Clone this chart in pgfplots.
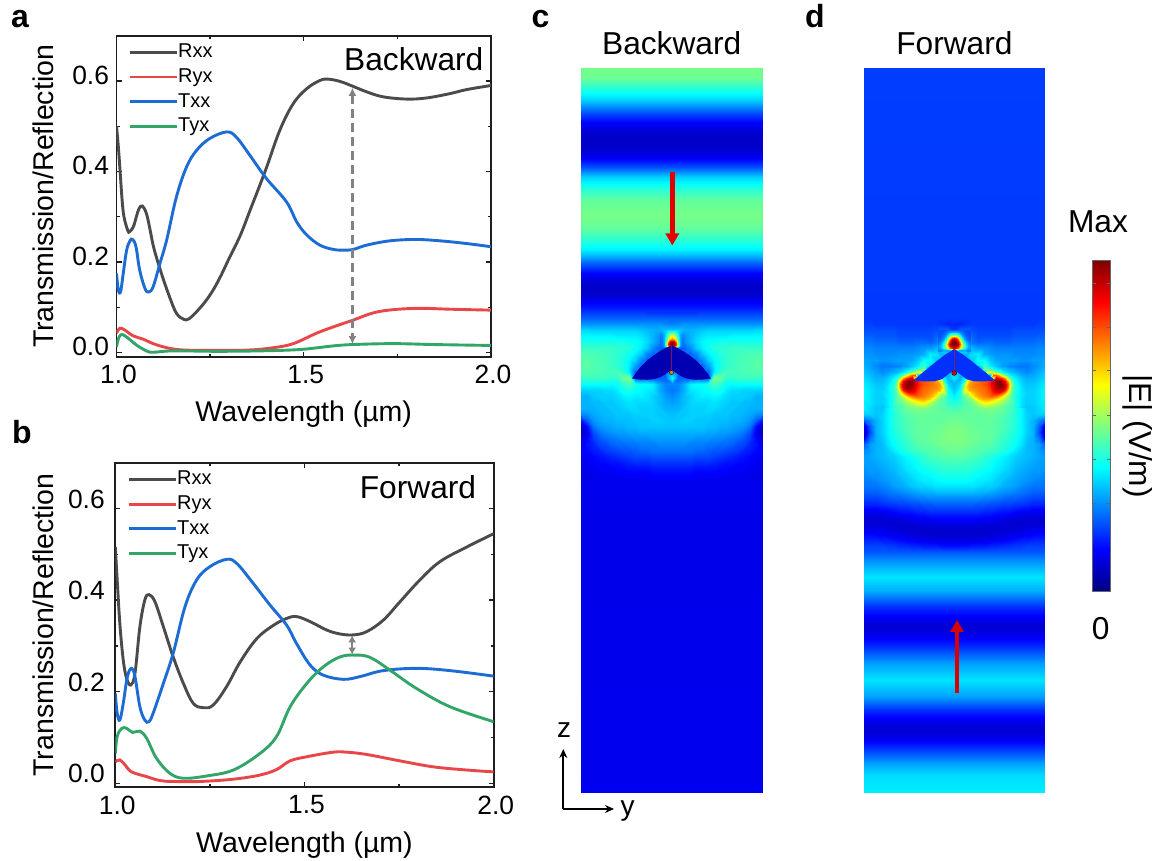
\documentclass[border=0pt]{standalone}
\usepackage{pgfplots}
\usepackage{pgfplotstable}
\pgfplotsset{compat=1.18}
\usepackage{fontspec}
\setmainfont{Liberation Sans}
\usetikzlibrary{arrows.meta}
\definecolor{cRxx}{RGB}{75,75,75}
\definecolor{cRyx}{RGB}{232,70,72}
\definecolor{cTxx}{RGB}{28,108,212}
\definecolor{cTyx}{RGB}{50,165,105}
\definecolor{frameC}{RGB}{30,30,30}
\definecolor{arrowG}{RGB}{130,130,130}
\definecolor{wingC}{RGB}{0,0,178}
\definecolor{wingD}{RGB}{0,48,250}
\definecolor{hotLine}{RGB}{170,20,60}
\newcommand{\fsz}[1]{\fontsize{#1}{#1}\selectfont}

% ---------- curves, panel a
\pgfplotstableread{
l v
1.000 0.500
1.005 0.454
1.010 0.396
1.015 0.337
1.020 0.300
1.030 0.270
1.035 0.267
1.045 0.278
1.053 0.300
1.060 0.318
1.069 0.324
1.080 0.307
1.090 0.270
1.100 0.230
1.120 0.175
1.140 0.127
1.160 0.087
1.180 0.0735
1.190 0.0735
1.200 0.079
1.220 0.096
1.240 0.116
1.260 0.141
1.280 0.172
1.300 0.207
1.330 0.258
1.356 0.313
1.398 0.403
1.436 0.491
1.472 0.550
1.508 0.583
1.543 0.601
1.565 0.604
1.597 0.599
1.632 0.588
1.668 0.576
1.712 0.565
1.775 0.560
1.828 0.5625
1.890 0.572
1.935 0.581
2.000 0.590
}\aRxx
\pgfplotstableread{
l v
1.000 0.175
1.005 0.138
1.011 0.135
1.018 0.175
1.027 0.226
1.036 0.247
1.043 0.250
1.052 0.234
1.062 0.182
1.076 0.142
1.086 0.134
1.098 0.146
1.116 0.197
1.134 0.249
1.160 0.344
1.187 0.410
1.214 0.447
1.249 0.473
1.294 0.4875
1.320 0.476
1.356 0.436
1.400 0.385
1.454 0.333
1.481 0.289
1.508 0.260
1.543 0.2375
1.579 0.228
1.606 0.2265
1.632 0.228
1.668 0.2375
1.730 0.247
1.800 0.250
1.864 0.247
1.935 0.241
2.000 0.234
}\aTxx
\pgfplotstableread{
l v
1.000 0.043
1.009 0.054
1.022 0.050
1.045 0.037
1.071 0.030
1.098 0.020
1.134 0.011
1.178 0.006
1.267 0.005
1.356 0.006
1.419 0.011
1.472 0.020
1.534 0.043
1.579 0.057
1.632 0.072
1.686 0.088
1.739 0.095
1.810 0.098
1.890 0.096
2.000 0.094
}\aRyx
\pgfplotstableread{
l v
1.000 0.013
1.007 0.035
1.016 0.040
1.031 0.032
1.053 0.017
1.080 0.004
1.098 0.001
1.151 0.004
1.267 0.003
1.383 0.004
1.490 0.007
1.579 0.015
1.632 0.018
1.739 0.020
1.846 0.018
2.000 0.016
}\aTyx
% ---------- curves, panel b
\pgfplotstableread{
l v
1.000 0.516
1.005 0.444
1.012 0.349
1.021 0.269
1.030 0.229
1.041 0.2145
1.052 0.240
1.065 0.342
1.078 0.400
1.089 0.412
1.105 0.396
1.127 0.342
1.153 0.276
1.180 0.218
1.206 0.1745
1.233 0.165
1.259 0.171
1.294 0.211
1.330 0.265
1.374 0.316
1.418 0.345
1.453 0.360
1.479 0.364
1.515 0.353
1.559 0.3345
1.594 0.326
1.629 0.324
1.664 0.331
1.708 0.356
1.752 0.396
1.805 0.444
1.858 0.484
1.929 0.516
2.000 0.545
}\bRxx
\pgfplotstableread{
l v
1.000 0.196
1.005 0.153
1.012 0.138
1.021 0.1745
1.032 0.233
1.043 0.251
1.052 0.233
1.065 0.167
1.078 0.138
1.089 0.1345
1.100 0.153
1.127 0.218
1.153 0.284
1.184 0.385
1.215 0.444
1.250 0.473
1.294 0.489
1.321 0.480
1.365 0.436
1.409 0.389
1.453 0.345
1.479 0.305
1.515 0.258
1.550 0.236
1.603 0.227
1.647 0.233
1.708 0.246
1.796 0.251
1.885 0.246
2.000 0.234
}\bTxx
\pgfplotstableread{
l v
1.000 0.047
1.012 0.051
1.026 0.040
1.043 0.025
1.083 0.0145
1.118 0.006
1.153 0.004
1.224 0.004
1.312 0.009
1.382 0.018
1.426 0.030
1.462 0.049
1.506 0.058
1.576 0.068
1.611 0.068
1.664 0.063
1.752 0.049
1.840 0.036
1.929 0.029
2.000 0.025
}\bRyx
\pgfplotstableread{
l v
1.000 0.065
1.005 0.102
1.017 0.120
1.030 0.120
1.046 0.111
1.065 0.114
1.083 0.098
1.109 0.0545
1.144 0.022
1.180 0.011
1.241 0.016
1.312 0.029
1.382 0.065
1.426 0.102
1.462 0.167
1.506 0.218
1.550 0.2545
1.594 0.276
1.633 0.280
1.673 0.275
1.726 0.247
1.796 0.207
1.885 0.167
2.000 0.1345
}\bTyx

% ---------- field maps: values in percent of the colour scale
% panel c, rows y = 312,318,...,480; half-columns at 0,6,...,90 px from the centre
\pgfplotstableread[row sep=\\,header=false]{
17\\17\\17\\17\\17\\18\\18\\18\\18\\18\\18\\18\\18\\18\\18\\18\\
22\\22\\22\\22\\22\\22\\22\\22\\22\\22\\22\\22\\22\\22\\22\\22\\
25\\26\\27\\27\\27\\27\\27\\27\\27\\27\\27\\27\\27\\27\\27\\27\\
32\\32\\30\\30\\31\\32\\33\\33\\33\\33\\33\\33\\33\\33\\34\\34\\
40\\38\\27\\30\\33\\35\\36\\36\\36\\36\\37\\37\\37\\37\\37\\37\\
30\\30\\26\\30\\34\\37\\38\\39\\40\\40\\40\\40\\40\\40\\40\\40\\
22\\22\\22\\26\\32\\36\\39\\41\\42\\42\\43\\43\\43\\43\\43\\43\\
22\\22\\22\\22\\25\\32\\36\\39\\41\\42\\43\\44\\44\\45\\45\\45\\
22\\22\\22\\22\\22\\26\\33\\37\\40\\42\\43\\44\\45\\45\\46\\46\\
22\\22\\22\\22\\22\\22\\28\\36\\40\\42\\43\\44\\45\\45\\46\\46\\
28\\22\\22\\22\\22\\22\\22\\36\\42\\44\\44\\44\\45\\45\\45\\45\\
38\\22\\22\\22\\22\\22\\22\\50\\48\\42\\42\\43\\43\\43\\43\\43\\
26\\26\\30\\36\\38\\38\\40\\44\\42\\38\\37\\38\\38\\38\\38\\38\\
24\\26\\30\\35\\36\\37\\38\\40\\39\\36\\34\\34\\33\\33\\33\\33\\
26\\28\\31\\33\\35\\36\\36\\37\\36\\34\\33\\33\\33\\32\\30\\30\\
28\\29\\31\\33\\34\\34\\34\\35\\34\\33\\32\\32\\31\\31\\30\\30\\
30\\30\\32\\33\\33\\33\\34\\34\\33\\32\\32\\31\\31\\30\\30\\30\\
31\\32\\32\\33\\33\\33\\33\\32\\32\\32\\31\\31\\30\\29\\27\\26\\
32\\32\\33\\33\\32\\32\\32\\31\\31\\31\\30\\30\\29\\27\\22\\16\\
32\\32\\32\\32\\32\\32\\31\\31\\30\\30\\29\\28\\27\\24\\14\\7\\
30\\30\\30\\30\\30\\30\\29\\29\\28\\28\\27\\26\\24\\20\\11\\6\\
28\\28\\28\\28\\27\\27\\27\\26\\26\\25\\24\\23\\21\\18\\13\\9\\
26\\26\\26\\25\\25\\25\\24\\24\\23\\23\\22\\20\\19\\16\\14\\11\\
24\\24\\24\\24\\23\\23\\22\\21\\21\\20\\19\\18\\16\\15\\13\\12\\
21\\21\\21\\21\\20\\20\\20\\19\\18\\17\\16\\15\\14\\13\\12\\11\\
18\\18\\18\\18\\17\\17\\17\\16\\15\\14\\14\\13\\13\\12\\11\\11\\
15\\15\\15\\15\\14\\14\\14\\14\\13\\13\\12\\12\\12\\11\\11\\10\\
13\\13\\13\\13\\12\\12\\12\\12\\12\\12\\11\\11\\11\\11\\10\\10\\
12\\12\\12\\12\\12\\11\\11\\11\\11\\11\\11\\11\\10\\10\\10\\10\\
}\cGrid
% panel c hot spot, rows y = 330,332,...,350; half-columns at 0,2,...,12
\pgfplotstableread[row sep=\\,header=false]{
34\\34\\34\\33\\32\\31\\30\\
42\\41\\38\\34\\31\\29\\28\\
55\\52\\44\\36\\30\\27\\26\\
64\\60\\50\\38\\30\\26\\25\\
68\\64\\54\\40\\30\\25\\24\\
82\\78\\62\\42\\30\\24\\24\\
100\\95\\78\\48\\30\\24\\24\\
100\\98\\85\\55\\30\\24\\23\\
92\\88\\72\\45\\28\\24\\23\\
40\\30\\25\\22\\22\\22\\22\\
22\\22\\22\\22\\22\\22\\22\\
}\cHot
% panel d, rows y = 312,318,...,552; half-columns at 0,6,...,90
\pgfplotstableread[row sep=\\,header=false]{
18\\18\\18\\18\\18\\18\\18\\18\\18\\18\\18\\18\\18\\18\\18\\18\\
18\\18\\18\\18\\18\\18\\18\\18\\18\\18\\18\\18\\18\\18\\18\\18\\
16\\16\\17\\18\\18\\18\\18\\18\\18\\18\\18\\18\\18\\18\\19\\19\\
18\\22\\22\\20\\19\\19\\19\\19\\19\\19\\20\\20\\20\\20\\20\\20\\
28\\33\\28\\22\\20\\20\\20\\20\\20\\20\\21\\21\\21\\21\\22\\22\\
40\\40\\36\\24\\22\\23\\23\\22\\22\\22\\23\\23\\23\\23\\24\\24\\
30\\40\\38\\30\\28\\27\\26\\25\\25\\25\\25\\25\\25\\25\\26\\26\\
30\\30\\30\\35\\36\\30\\28\\27\\27\\27\\26\\26\\26\\26\\27\\27\\
30\\30\\30\\32\\38\\38\\32\\29\\28\\28\\28\\27\\27\\28\\28\\29\\
30\\30\\30\\30\\35\\45\\36\\32\\28\\26\\25\\24\\24\\26\\28\\30\\
30\\30\\30\\30\\30\\40\\62\\50\\38\\33\\30\\28\\26\\28\\30\\32\\
36\\30\\40\\45\\50\\60\\70\\92\\82\\52\\37\\33\\30\\30\\32\\34\\
30\\34\\60\\72\\76\\80\\86\\97\\98\\78\\44\\35\\32\\32\\34\\36\\
32\\38\\66\\72\\75\\77\\82\\92\\92\\68\\45\\36\\33\\33\\35\\37\\
36\\40\\50\\62\\70\\75\\78\\76\\66\\54\\44\\36\\33\\33\\35\\37\\
40\\42\\46\\50\\56\\64\\62\\59\\55\\50\\44\\38\\33\\33\\35\\36\\
44\\45\\46\\47\\49\\50\\50\\49\\48\\45\\42\\37\\32\\32\\34\\36\\
47\\47\\47\\47\\47\\47\\48\\47\\46\\44\\41\\37\\33\\32\\33\\33\\
48\\48\\47\\47\\47\\47\\47\\46\\45\\43\\41\\37\\33\\30\\26\\22\\
49\\49\\48\\48\\47\\47\\47\\46\\45\\43\\41\\37\\33\\30\\22\\10\\
50\\50\\49\\48\\48\\47\\47\\46\\44\\42\\40\\37\\33\\30\\20\\7\\
50\\50\\49\\48\\48\\47\\47\\45\\43\\41\\39\\36\\32\\30\\24\\12\\
49\\49\\49\\48\\47\\46\\46\\44\\42\\40\\38\\35\\31\\30\\28\\22\\
48\\48\\47\\46\\46\\45\\44\\43\\41\\39\\36\\33\\31\\30\\28\\26\\
46\\46\\46\\45\\44\\42\\41\\39\\37\\35\\33\\32\\31\\30\\29\\28\\
44\\44\\43\\43\\42\\41\\39\\37\\36\\34\\32\\31\\30\\29\\28\\28\\
42\\42\\42\\41\\40\\39\\38\\36\\35\\33\\31\\30\\29\\28\\28\\27\\
40\\40\\40\\39\\38\\37\\36\\35\\33\\32\\30\\29\\28\\27\\27\\26\\
38\\38\\38\\37\\36\\36\\35\\33\\32\\30\\29\\28\\27\\26\\25\\25\\
35\\35\\35\\35\\34\\33\\33\\32\\30\\29\\28\\26\\25\\24\\24\\24\\
31\\31\\31\\31\\30\\30\\29\\28\\27\\26\\25\\24\\23\\22\\22\\22\\
26\\26\\26\\26\\26\\25\\25\\24\\23\\22\\22\\21\\20\\19\\19\\19\\
22\\22\\22\\22\\21\\21\\20\\20\\19\\19\\18\\18\\17\\16\\16\\16\\
18\\18\\18\\18\\18\\17\\17\\16\\15\\15\\14\\13\\13\\12\\12\\12\\
14\\14\\14\\14\\14\\13\\13\\12\\12\\11\\10\\10\\9\\9\\9\\9\\
11\\11\\11\\11\\10\\10\\10\\9\\9\\8\\8\\8\\8\\8\\8\\8\\
8\\8\\8\\8\\8\\8\\8\\8\\8\\8\\9\\9\\10\\10\\10\\10\\
8\\8\\8\\8\\8\\8\\8\\9\\9\\10\\10\\11\\12\\12\\13\\13\\
10\\10\\10\\10\\10\\11\\11\\12\\12\\13\\14\\15\\15\\16\\16\\16\\
14\\14\\14\\15\\15\\15\\16\\16\\17\\17\\18\\18\\19\\19\\19\\19\\
21\\21\\21\\21\\21\\21\\21\\21\\21\\21\\21\\21\\21\\21\\21\\21\\
}\dGrid
% panel d lobes, rows y = 366,369,...,408; half-columns at 12,15,...,72
\pgfplotstableread[row sep=\\,header=false]{
30\\30\\30\\30\\30\\35\\45\\40\\36\\34\\32\\30\\28\\28\\26\\25\\25\\24\\24\\24\\24\\
30\\30\\30\\30\\30\\30\\50\\50\\45\\40\\37\\35\\33\\31\\30\\29\\28\\27\\26\\26\\25\\
30\\30\\30\\30\\30\\30\\30\\62\\62\\55\\50\\45\\38\\35\\33\\31\\30\\29\\28\\27\\26\\
30\\30\\30\\30\\30\\30\\30\\30\\30\\80\\78\\70\\58\\48\\40\\36\\34\\32\\30\\29\\28\\
40\\50\\60\\60\\60\\60\\60\\60\\60\\60\\92\\88\\82\\72\\52\\42\\37\\35\\33\\31\\30\\
60\\68\\72\\74\\76\\78\\79\\80\\85\\92\\98\\100\\95\\88\\70\\48\\40\\36\\34\\32\\31\\
62\\72\\74\\76\\77\\78\\80\\82\\86\\92\\97\\100\\98\\92\\78\\52\\42\\38\\35\\33\\32\\
66\\72\\74\\75\\76\\77\\78\\80\\84\\90\\95\\98\\98\\92\\76\\52\\43\\39\\36\\34\\32\\
62\\70\\72\\73\\75\\76\\77\\79\\82\\88\\92\\94\\92\\85\\68\\50\\43\\39\\36\\34\\33\\
54\\60\\68\\71\\73\\75\\76\\78\\80\\84\\86\\85\\80\\70\\58\\48\\42\\39\\36\\35\\33\\
48\\55\\62\\68\\71\\73\\75\\76\\78\\78\\76\\72\\66\\58\\52\\46\\42\\38\\36\\35\\33\\
46\\48\\52\\60\\66\\69\\71\\71\\70\\68\\65\\61\\57\\53\\49\\46\\42\\38\\36\\34\\33\\
46\\47\\49\\52\\57\\61\\64\\64\\62\\60\\58\\55\\53\\50\\48\\46\\43\\39\\36\\34\\33\\
46\\47\\48\\49\\52\\54\\57\\57\\56\\54\\52\\51\\49\\47\\45\\44\\42\\39\\36\\34\\32\\
46\\46\\47\\47\\48\\49\\50\\50\\50\\49\\49\\48\\47\\45\\44\\43\\41\\38\\35\\33\\31\\
}\dLobe
% panel d hot spot, rows y = 330,332,...,352; half-columns at 0,2,...,16
\pgfplotstableread[row sep=\\,header=false]{
22\\22\\22\\21\\21\\20\\20\\20\\20\\
30\\30\\28\\25\\23\\21\\20\\20\\20\\
45\\44\\40\\32\\26\\23\\21\\20\\20\\
62\\60\\52\\40\\30\\25\\22\\21\\20\\
88\\82\\68\\52\\36\\28\\24\\22\\21\\
100\\95\\82\\62\\44\\33\\26\\23\\22\\
100\\100\\90\\72\\52\\38\\30\\26\\23\\
100\\100\\95\\78\\58\\44\\34\\28\\25\\
96\\95\\88\\72\\58\\46\\36\\30\\27\\
92\\85\\78\\62\\52\\42\\34\\29\\27\\
60\\45\\35\\30\\30\\30\\28\\26\\26\\
30\\30\\30\\30\\30\\32\\28\\26\\26\\
}\dHot

\pgfplotsset{
  specax/.style={
    scale only axis, axis line style={line width=1.7pt,frameC},
    every tick/.style={line width=1.3pt,frameC},
    xmin=1,xmax=2, xtick={1,1.5,2}, ytick={0,0.2,0.4,0.6}, ymax=0.7,
    minor x tick num=1, minor y tick num=1,
    major tick length=5pt, minor tick length=3pt, tick align=inside,
    /pgf/number format/.cd,fixed,zerofill,precision=1,assume math mode=true,/pgfplots/.cd,
    tick label style={font=\fsz{26.4}},
    xticklabel style={xshift=2pt,yshift=-5pt},
    yticklabel style={yshift=6pt,xshift=-4pt},
    xlabel={Wavelength (µm)}, ylabel={Transmission/Reflection},
    label style={font=\fsz{28.5}},
    legend style={draw=none,fill=none,font=\fsz{20},at={(rel axis cs:0.031,0.977)},anchor=north west,
       row sep=6.7pt, inner sep=0pt, nodes={inner sep=0pt,anchor=west,text height=14.5pt,text depth=3.5pt}},
    legend cell align=left,
    legend image code/.code={\draw[#1] (0pt,0pt) -- (47pt,0pt);},
  },
  cv/.style={line width=2.9pt,smooth,tension=0.6,no marks},
  mapax/.style={
    scale only axis, hide axis, width=181pt, height=725pt,
    xmin=-90.5,xmax=90.5,ymin=67.7,ymax=792.7,y dir=reverse,
    colormap/jet, point meta min=0, point meta max=100,
  },
  fld/.style={surf,shader=interp,point meta=explicit,forget plot},
}

\begin{document}
\begin{tikzpicture}[x=1pt,y=1pt]
\path[use as bounding box] (0,0) rectangle (1163,861);

% ---- a
\begin{axis}[specax,at={(116.5pt,504pt)},anchor=south west,width=374.5pt,height=321.3pt,
  ymin=-0.0095,
  xlabel style={at={(axis description cs:0.5,0)},anchor=base,yshift=-65pt},
  ylabel style={at={(axis description cs:-0.158,0.5)},anchor=south,rotate=0}]
\addplot[cv,cRxx] table[x=l,y=v]{\aRxx};\addlegendentry{Rxx}
\addplot[cv,cRyx] table[x=l,y=v]{\aRyx};\addlegendentry{Ryx}
\addplot[cv,cTxx] table[x=l,y=v]{\aTxx};\addlegendentry{Txx}
\addplot[cv,cTyx] table[x=l,y=v]{\aTyx};\addlegendentry{Tyx}
\draw[arrowG,line width=2.3pt,dash pattern=on 9pt off 5pt,{Latex[length=8pt,width=8pt]}-{Latex[length=8pt,width=8pt]}]
   (axis cs:1.63,0.585) -- (axis cs:1.63,0.019);
\end{axis}
% ---- b
\begin{axis}[specax,at={(115.3pt,73.7pt)},anchor=south west,width=378.4pt,height=324.6pt,
  ymin=-0.0087,
  yticklabel style={yshift=3.5pt,xshift=-3pt},
  xlabel style={at={(axis description cs:0.5,0)},anchor=base,yshift=-65pt},
  ylabel style={at={(axis description cs:-0.153,0.5)},anchor=south,rotate=0}]
\addplot[cv,cRxx] table[x=l,y=v]{\bRxx};\addlegendentry{Rxx}
\addplot[cv,cRyx] table[x=l,y=v]{\bRyx};\addlegendentry{Ryx}
\addplot[cv,cTxx] table[x=l,y=v]{\bTxx};\addlegendentry{Txx}
\addplot[cv,cTyx] table[x=l,y=v]{\bTyx};\addlegendentry{Tyx}
\draw[arrowG,line width=2.3pt,{Latex[length=7pt,width=8pt]}-{Latex[length=7pt,width=8pt]}]
   (axis cs:1.626,0.323) -- (axis cs:1.626,0.281);
\end{axis}

% ---- c
\begin{axis}[mapax,at={(581pt,68.3pt)},anchor=south west]
\addplot[fld,mesh/cols=2] table[row sep=\\,x=x,y=y,meta=m]{
x y m\\
-90.5 67.7 49\\ 90.5 67.7 49\\
-90.5 78 48\\ 90.5 78 48\\
-90.5 90 40\\ 90.5 90 40\\
-90.5 100 33\\ 90.5 100 33\\
-90.5 107 26\\ 90.5 107 26\\
-90.5 113 20\\ 90.5 113 20\\
-90.5 123 12\\ 90.5 123 12\\
-90.5 132 8\\ 90.5 132 8\\
-90.5 140 7\\ 90.5 140 7\\
-90.5 150 8\\ 90.5 150 8\\
-90.5 157 11\\ 90.5 157 11\\
-90.5 167 20\\ 90.5 167 20\\
-90.5 177 33\\ 90.5 177 33\\
-90.5 190 42\\ 90.5 190 42\\
-90.5 200 47\\ 90.5 200 47\\
-90.5 213 49\\ 90.5 213 49\\
-90.5 225 48\\ 90.5 225 48\\
-90.5 233 45\\ 90.5 233 45\\
-90.5 243 40\\ 90.5 243 40\\
-90.5 250 36\\ 90.5 250 36\\
-90.5 257 29\\ 90.5 257 29\\
-90.5 263 22\\ 90.5 263 22\\
-90.5 273 13\\ 90.5 273 13\\
-90.5 280 9\\ 90.5 280 9\\
-90.5 287 7\\ 90.5 287 7\\
-90.5 295 8\\ 90.5 295 8\\
-90.5 300 11\\ 90.5 300 11\\
-90.5 306 14\\ 90.5 306 14\\
-90.5 312.2 18\\ 90.5 312.2 18\\
}; 
\addplot[fld,mesh/cols=2] table[row sep=\\,x=x,y=y,meta=m]{
x y m\\
-90.5 479.8 11\\ 90.5 479.8 11\\
-90.5 520 10.5\\ 90.5 520 10.5\\
-90.5 560 10.5\\ 90.5 560 10.5\\
-90.5 792.7 11\\ 90.5 792.7 11\\
};
\addplot[fld,mesh/cols=16] table[x index=0,y index=0,x expr={6.0333*mod(\coordindex,16)},y expr={312+6*floor((\coordindex+0.5)/16)},meta index=0]{\cGrid};
\addplot[fld,mesh/cols=16] table[x index=0,y index=0,x expr={-6.0333*mod(\coordindex,16)},y expr={312+6*floor((\coordindex+0.5)/16)},meta index=0]{\cGrid};
\addplot[fld,mesh/cols=7] table[x index=0,y index=0,x expr={2*mod(\coordindex,7)},y expr={330+2*floor((\coordindex+0.5)/7)},meta index=0]{\cHot};
\addplot[fld,mesh/cols=7] table[x index=0,y index=0,x expr={-2*mod(\coordindex,7)},y expr={330+2*floor((\coordindex+0.5)/7)},meta index=0]{\cHot};
\addplot[fill=wingC,draw=none,forget plot] coordinates {(0,345.5)(6,348)(12,351.5)(18,355.5)(24,360)(30,366)(35,372)(39.5,378.5)(32,379.5)(24,379.8)(17,379)(11,377)(6,374)(2,371)(0,370)(-2,371)(-6,374)(-11,377)(-17,379)(-24,379.8)(-32,379.5)(-39.5,378.5)(-35,372)(-30,366)(-24,360)(-18,355.5)(-12,351.5)(-6,348)};
\addplot[hotLine,line width=1.2pt,opacity=0.8,forget plot] coordinates {(0,346)(0,372)};
\addplot[only marks,mark=*,mark size=2pt,mark options={draw=none,fill=orange},forget plot] coordinates {(0,372.5)};
\end{axis}

% ---- d
\begin{axis}[mapax,at={(863.7pt,68.3pt)},anchor=south west]
\addplot[fld,mesh/cols=2] table[row sep=\\,x=x,y=y,meta=m]{
x y m\\
-90.5 67.7 18.5\\ 90.5 67.7 18.5\\
-90.5 312.2 18\\ 90.5 312.2 18\\
};
\addplot[fld,mesh/cols=2] table[row sep=\\,x=x,y=y,meta=m]{
x y m\\
-90.5 551.8 21\\ 90.5 551.8 21\\
-90.5 563 28\\ 90.5 563 28\\
-90.5 577 35\\ 90.5 577 35\\
-90.5 590 30\\ 90.5 590 30\\
-90.5 607 17\\ 90.5 607 17\\
-90.5 618 11\\ 90.5 618 11\\
-90.5 627 8\\ 90.5 627 8\\
-90.5 636 11\\ 90.5 636 11\\
-90.5 647 17\\ 90.5 647 17\\
-90.5 663 28\\ 90.5 663 28\\
-90.5 680 35\\ 90.5 680 35\\
-90.5 697 28\\ 90.5 697 28\\
-90.5 710 17\\ 90.5 710 17\\
-90.5 720 11\\ 90.5 720 11\\
-90.5 730 8\\ 90.5 730 8\\
-90.5 739 11\\ 90.5 739 11\\
-90.5 748 17\\ 90.5 748 17\\
-90.5 763 28\\ 90.5 763 28\\
-90.5 775 34\\ 90.5 775 34\\
-90.5 792.7 36\\ 90.5 792.7 36\\
};
\addplot[fld,mesh/cols=16] table[x index=0,y index=0,x expr={6.0333*mod(\coordindex,16)},y expr={312+6*floor((\coordindex+0.5)/16)},meta index=0]{\dGrid};
\addplot[fld,mesh/cols=16] table[x index=0,y index=0,x expr={-6.0333*mod(\coordindex,16)},y expr={312+6*floor((\coordindex+0.5)/16)},meta index=0]{\dGrid};
\addplot[fld,mesh/cols=21] table[x index=0,y index=0,x expr={12+3*mod(\coordindex,21)},y expr={366+3*floor((\coordindex+0.5)/21)},meta index=0]{\dLobe};
\addplot[fld,mesh/cols=21] table[x index=0,y index=0,x expr={-12-3*mod(\coordindex,21)},y expr={366+3*floor((\coordindex+0.5)/21)},meta index=0]{\dLobe};
\addplot[fld,mesh/cols=9] table[x index=0,y index=0,x expr={2*mod(\coordindex,9)},y expr={330+2*floor((\coordindex+0.5)/9)},meta index=0]{\dHot};
\addplot[fld,mesh/cols=9] table[x index=0,y index=0,x expr={-2*mod(\coordindex,9)},y expr={330+2*floor((\coordindex+0.5)/9)},meta index=0]{\dHot};
\addplot[fill=wingD,draw=none,forget plot] coordinates {(0,349)(8,354)(16,360)(24,366.5)(32,373)(41,380.5)(30,381.5)(20,381.5)(12,379)(7,375)(3,372)(0,370)(-3,372)(-7,375)(-12,379)(-20,381.5)(-30,381.5)(-41,380.5)(-32,373)(-24,366.5)(-16,360)(-8,354)};
\addplot[hotLine,line width=1.2pt,opacity=0.8,forget plot] coordinates {(0,349)(0,372)};
\addplot[only marks,mark=*,mark size=2.4pt,mark options={draw=none,fill=red!85!black},forget plot] coordinates {(0,373)};
\end{axis}

% ---- colour bar
\begin{axis}[scale only axis,at={(1092pt,270pt)},anchor=south west,width=18.3pt,height=330.3pt,
  xmin=0,xmax=1,ymin=260.7,ymax=591,y dir=reverse,colormap/jet,point meta min=0,point meta max=100,
  xtick=\empty,ytick={283,327,370,415,459,503},yticklabels={},tick align=inside,major tick length=3.5pt,
  axis line style={line width=0.9pt,black!60},every tick/.style={line width=0.8pt,black!60},
  axis on top]
\addplot[fld,mesh/cols=2] table[row sep=\\,x=x,y=y,meta=m]{
x y m\\
0 260.7 100\\ 1 260.7 100\\
0 591 0\\ 1 591 0\\
};
\end{axis}

% ---- annotations
\draw[-{Triangle[length=12pt,width=13pt]},line width=4.6pt,red!90!black] (672.3,{861-171.7}) -- (672.3,{861-245.5});
\draw[-{Triangle[length=12pt,width=13pt]},line width=4.6pt,red!85!black] (957,{861-693.3}) -- (957,{861-620});
\draw[-{Stealth[length=9pt,width=8pt]},line width=1.7pt] (563.3,{861-809}) -- (563.3,{861-749});
\draw[-{Stealth[length=9pt,width=8pt]},line width=1.7pt] (562.5,{861-809}) -- (614,{861-809});

\tikzset{lab/.style={anchor=base,inner sep=0pt,font=\fsz{31.7}},pl/.style={anchor=base,inner sep=0pt,font=\fsz{32}\bfseries}}
\node[pl] at (20,{861-28}) {a};
\node[pl] at (22,{861-444}) {b};
\node[pl] at (540.5,{861-28}) {c};
\node[pl] at (815,{861-28}) {d};
\node[lab] at (413.8,{861-71}) {Backward};
\node[lab] at (418,{861-499}) {Forward};
\node[lab] at (671.7,{861-55}) {Backward};
\node[lab] at (954.4,{861-55}) {Forward};
\node[lab] at (1098,{861-233}) {Max};
\node[lab] at (1100.6,{861-640}) {0};
\node[anchor=base,inner sep=0pt,font=\fsz{28}] at (564,{861-738}) {z};
\node[anchor=base,inner sep=0pt,font=\fsz{28}] at (627.7,{861-816}) {y};
\node[lab,rotate=-90,anchor=base] at (1129,{861-436}) {|E| (V/m)};
\end{tikzpicture}
\end{document}
